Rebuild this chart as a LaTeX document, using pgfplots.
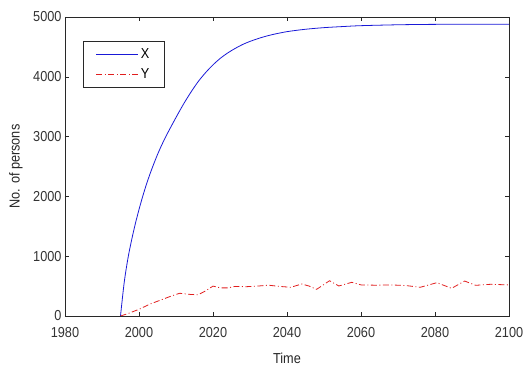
\documentclass[border=0pt]{standalone}
\usepackage{pgfplots}
\pgfplotsset{compat=1.18}
\usepackage{fontspec}
\setmainfont{Liberation Sans}[FakeStretch=0.88]
\definecolor{xblue}{RGB}{25,25,215}
\definecolor{yred}{RGB}{225,30,30}
\definecolor{axgray}{RGB}{40,40,40}
\begin{document}
\begin{tikzpicture}
\useasboundingbox (-65bp,-50bp) rectangle (460bp,316bp);
\begin{axis}[
  scale only axis,
  width=444bp, height=299bp,
  xmin=1980, xmax=2100, ymin=0, ymax=5000,
  xtick={1980,2000,...,2100},
  ytick={0,1000,...,5000},
  tick align=inside,
  major tick length=4bp,
  axis line style={axgray, line width=0.6pt},
  tick style={axgray, line width=0.6pt},
  x tick label style={/pgf/number format/1000 sep={}, yshift=-8bp},
  y tick label style={/pgf/number format/1000 sep={}},
  /pgf/number format/assume math mode=true,
  ticklabel style={font=\fontsize{14.5}{16}\selectfont, text=black!80},
  xlabel={Time},
  ylabel={No. of persons},
  label style={font=\fontsize{14.5}{16}\selectfont, text=black!85},
  xlabel style={at={(axis description cs:0.5,0)}, anchor=center, yshift=-42bp},
  ylabel style={at={(axis description cs:-0.1104,0.5)}, anchor=center},
  legend style={at={(0.04,0.921)}, anchor=north west, draw=axgray,
    line width=0.6pt, font=\fontsize{14.5}{16}\selectfont,
    inner xsep=13bp, inner ysep=6bp, row sep=4bp},
  legend cell align=left,
  legend image code/.code={\draw[#1] (2bp,0bp) -- (44bp,0bp);},
]
\addplot[xblue, line width=0.8pt, smooth, tension=0.5] coordinates {
(1995,0) (1996,560) (1997,960) (1998,1270) (1999,1540) (2000,1780)
(2001,2000) (2002,2200) (2003,2380) (2004,2545) (2005,2700) (2006,2840)
(2007,2970) (2008,3090) (2010,3320) (2012,3540) (2014,3740) (2016,3920)
(2018,4070) (2020,4200) (2022,4310) (2024,4400) (2026,4475) (2028,4540)
(2030,4592) (2033,4655) (2036,4705) (2040,4755) (2045,4795) (2050,4822)
(2055,4840) (2060,4855) (2070,4870) (2080,4877) (2100,4880)
};
\addlegendentry{X}
\addplot[yred, line width=0.8pt, dash pattern=on 6bp off 2.5bp on 1bp off 2.5bp] coordinates {
(1995,0) (1997,40) (2000,112) (2003,200) (2006,270) (2009,340) (2011,380)
(2014,360) (2016,355) (2018,420) (2020,500) (2022,470) (2024,470) (2026,495)
(2029,490) (2032,500) (2035,515) (2038,495) (2041,480) (2044,535) (2046,500)
(2048,446) (2051.5,590) (2054,502) (2057.5,563) (2060,520) (2064,515)
(2068,520) (2072,510) (2076,480) (2080.5,557) (2084.5,463) (2088,585)
(2091,513) (2095,530) (2100,520)
};
\addlegendentry{Y}
\end{axis}
\end{tikzpicture}
\end{document}
